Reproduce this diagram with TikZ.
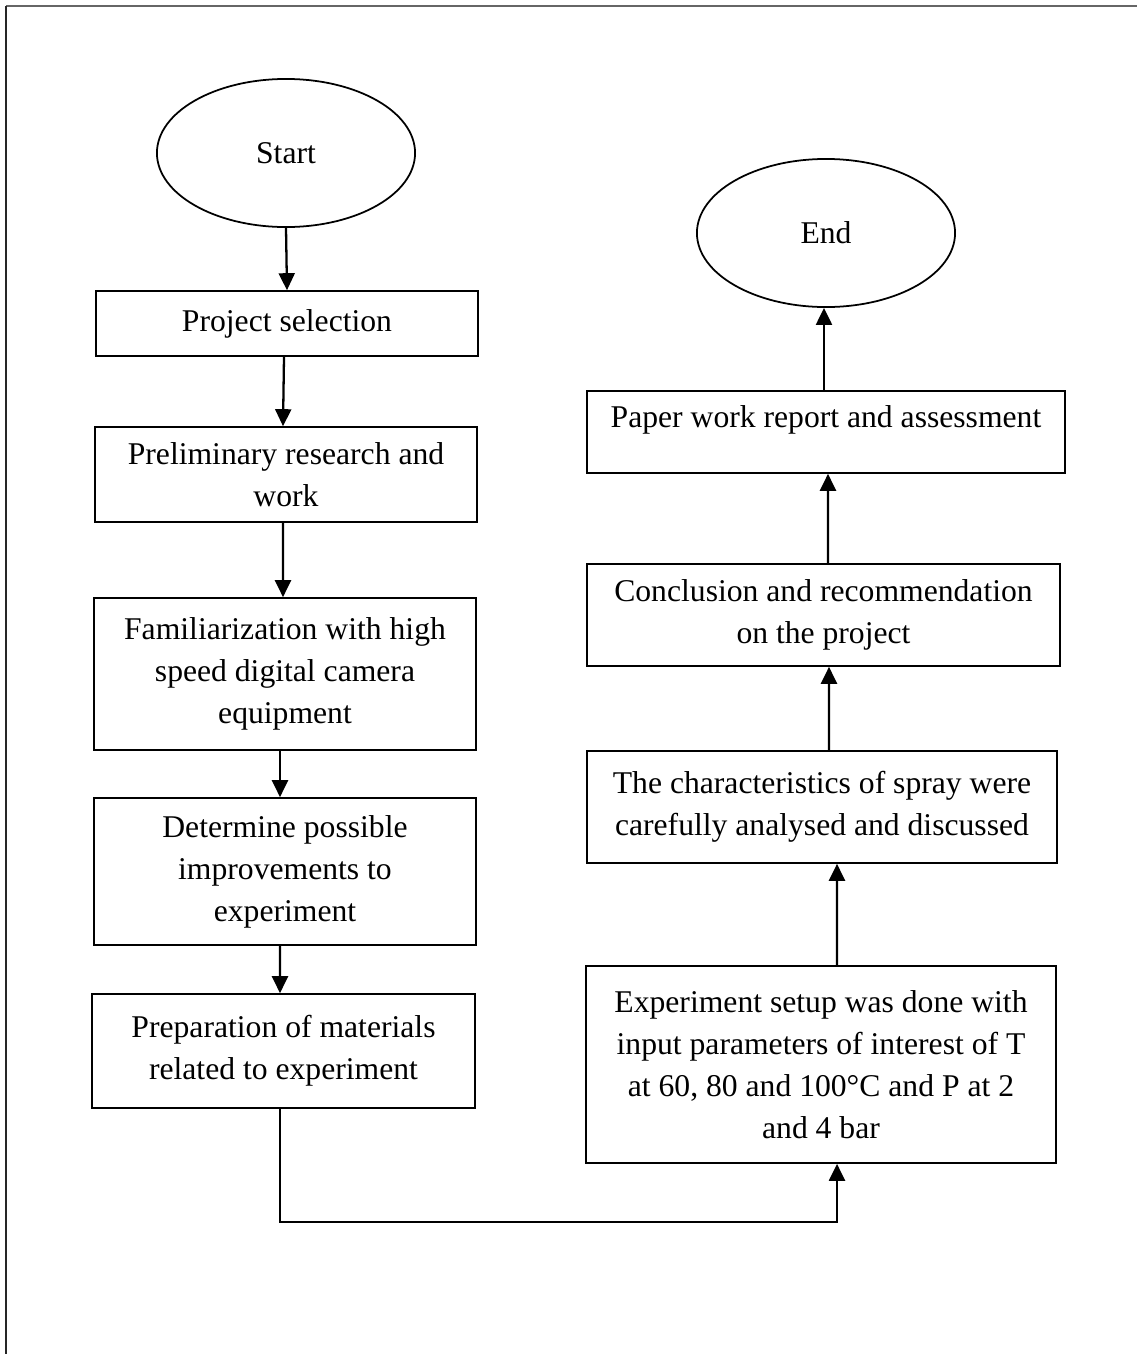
\documentclass[tikz,border=0pt]{standalone}
\usepackage{fontspec}
\setmainfont{Liberation Serif}
\usetikzlibrary{arrows.meta,shapes.geometric}
\newcommand{\chartfont}{\fontsize{9}{11.95}\selectfont}

\begin{document}
\begin{tikzpicture}[x=0.01cm, y=-0.01cm,
		box/.style={draw, line width=0.45pt, inner sep=0pt, align=center, font=\chartfont},
		terminal/.style={draw, ellipse, line width=0.5pt, inner sep=0pt, font=\chartfont,
			minimum width=2.58cm, minimum height=1.48cm},
		flow/.style={line width=0.65pt, -{Triangle[length=0.17cm, width=0.16cm]}}]
	%%%%% START %%%%%
	
	\useasboundingbox (0,0) rectangle (1137,1354);
	\draw[line width=0.7pt, color=black!60] (6,6) -- (1137,6);
	\draw[line width=0.7pt, color=black!85] (6,6) -- (6,1354);
	
	% left column
	\node[terminal] (start) at (286,153) {Start};
	\node[box, minimum width=3.82cm, minimum height=0.65cm] (select) at (287,323.5) {Project selection};
	\node[box, minimum width=3.82cm, minimum height=0.95cm] (prelim) at (286,474.5) {Preliminary research and\\work};
	\node[box, minimum width=3.82cm, minimum height=1.52cm] (camera) at (285,674) {Familiarization with high\\speed digital camera\\equipment};
	\node[box, minimum width=3.82cm, minimum height=1.47cm] (improve) at (285,871.5) {Determine possible\\improvements to\\experiment};
	\node[box, minimum width=3.83cm, minimum height=1.14cm] (prep) at (283.5,1051) {Preparation of materials\\related to experiment};
	
	% right column
	\node[box, minimum width=4.70cm, minimum height=1.97cm] (setup) at (821,1064.5) {Experiment setup was done with\\input parameters of interest of T\\at 60, 80 and 100°C and P at 2\\and 4 bar};
	\node[box, minimum width=4.70cm, minimum height=1.12cm] (spray) at (822,807) {The characteristics of spray were\\carefully analysed and discussed};
	\node[box, minimum width=4.73cm, minimum height=1.02cm] (concl) at (823.5,615) {Conclusion and recommendation\\on the project};
	\node[box, minimum width=4.78cm, minimum height=0.82cm, text depth=0.3cm] (report) at (826,432) {Paper work report and assessment};
	\node[terminal] (end) at (826,233) {End};
	
	% connectors
	\draw[flow] (start.south) -- (select.north);
	\draw[flow] ([xshift=-0.03cm]select.south) -- ([xshift=-0.03cm]prelim.north);
	\draw[flow] ([xshift=-0.03cm]prelim.south) -- ([xshift=-0.02cm]camera.north);
	\draw[flow] ([xshift=-0.05cm]camera.south) -- ([xshift=-0.05cm]improve.north);
	\draw[flow] ([xshift=-0.05cm]improve.south) -- ([xshift=-0.035cm]prep.north);
	
	\coordinate (turn) at (0,1222);
	\draw[flow] ([xshift=-0.035cm]prep.south) -- ([xshift=-0.035cm]prep.south |- turn) -| ([xshift=0.16cm]setup.south);
	
	\draw[flow] ([xshift=0.16cm]setup.north) -- ([xshift=0.15cm]spray.south);
	\draw[flow] ([xshift=0.07cm]spray.north) -- ([xshift=0.055cm]concl.south);
	\draw[flow] ([xshift=0.045cm]concl.north) -- ([xshift=0.02cm]report.south);
	\draw[flow] ([xshift=-0.02cm]report.north) -- ([xshift=-0.02cm]end.south);
	
	%%%%% END %%%%%
\end{tikzpicture}
\end{document}
